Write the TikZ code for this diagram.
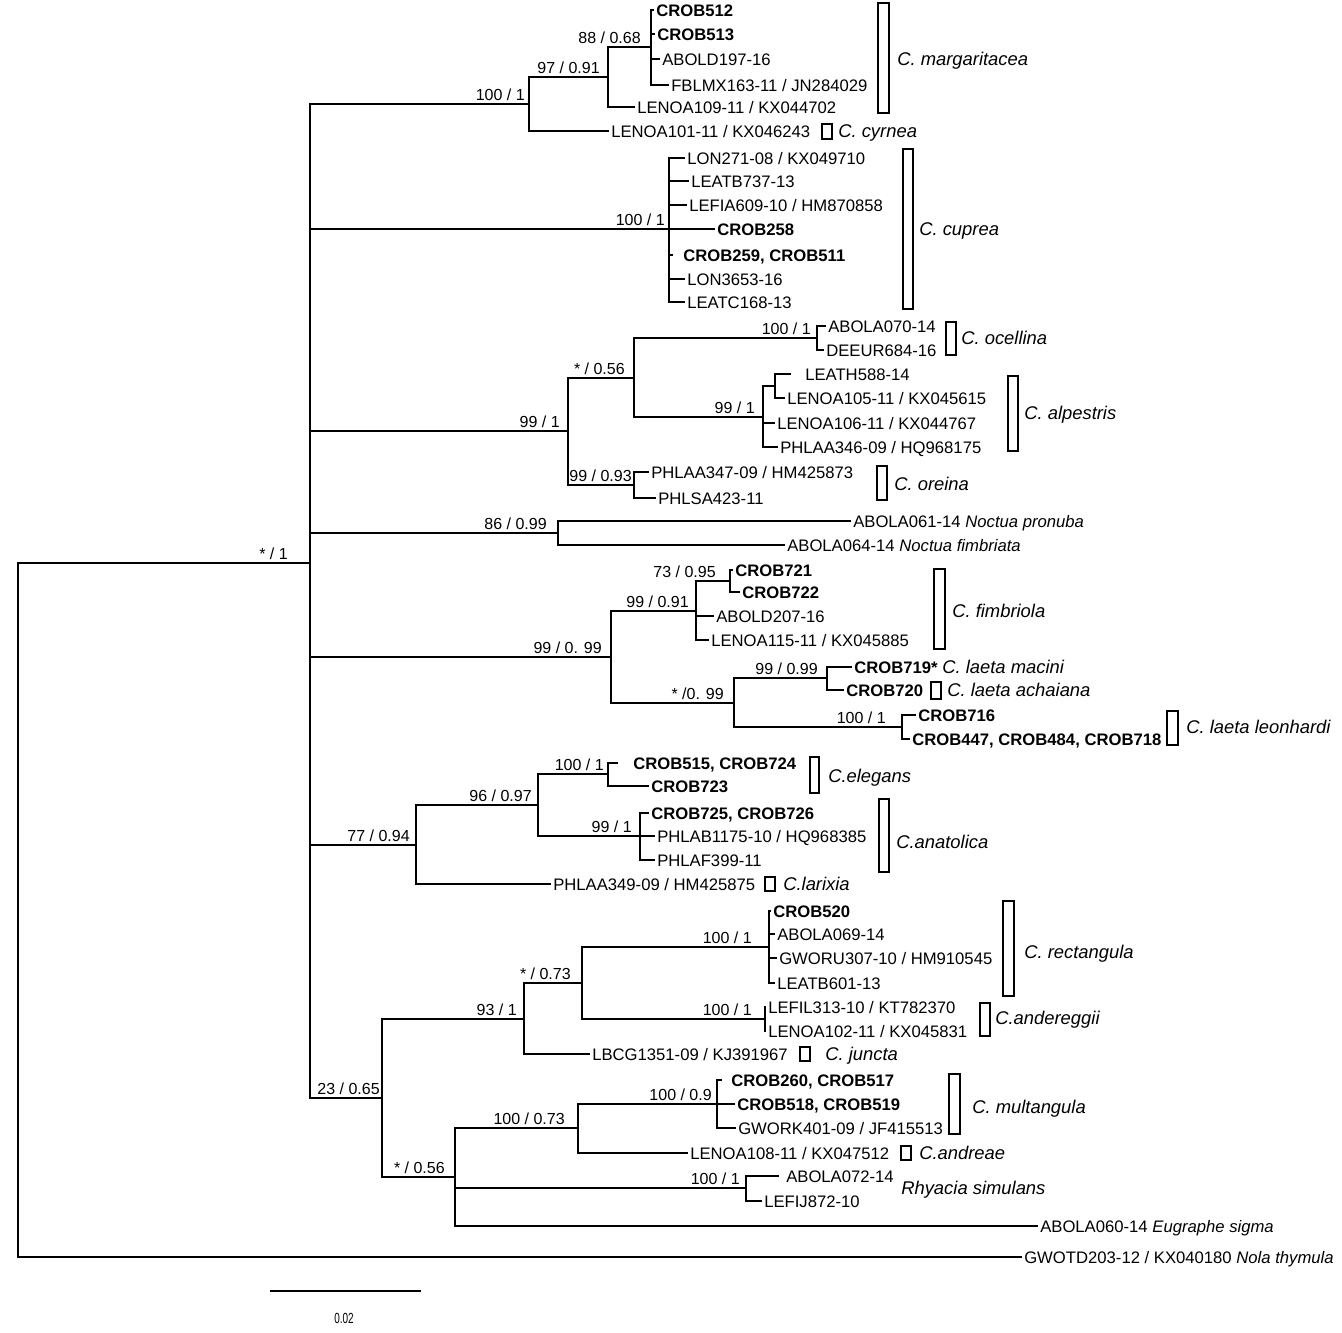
\documentclass[tikz,border=0pt]{standalone}
\usepackage{fontspec}
\setmainfont{Liberation Sans}
\usepackage{graphicx}
\newcommand\fsn{\fontsize{12.5}{14}\selectfont}
\newcommand\fsl{\fontsize{12}{14}\selectfont}
\newcommand\fss{\fontsize{13.8}{16}\selectfont}
\begin{document}
\begin{tikzpicture}[x=0.75pt,y=-0.75pt,
  br/.style={line width=1.7pt},
  boxs/.style={line width=1.5pt},
  leaf/.style={anchor=west, inner xsep=1.5pt, inner ysep=0pt, text height=9pt, text depth=0pt, font=\fsn},
  bleaf/.style={leaf, font=\fsn\bfseries},
  spn/.style={leaf, text height=10pt, font=\fss\itshape},
  sup/.style={anchor=base east, inner sep=0pt, font=\fsl}]
\fill[white] (0,0) rectangle (1342,1332);
\useasboundingbox (0,0) rectangle (1342,1332);

% internal nodes
\coordinate (root) at (18,910);
\coordinate (n310) at (310,563);
\coordinate (n529) at (529,104);
\coordinate (n608a) at (608,77);
\coordinate (n651) at (651,47);
\coordinate (n669) at (669,229);
\coordinate (n568) at (568,431);
\coordinate (n634a) at (634,378);
\coordinate (n817) at (817,338);
\coordinate (n763) at (763,417);
\coordinate (n775) at (775,386);
\coordinate (n634b) at (634,485);
\coordinate (n558) at (558,533);
\coordinate (n611) at (611,657);
\coordinate (n696) at (696,611);
\coordinate (n730) at (730,581);
\coordinate (n734) at (734,703);
\coordinate (n827) at (827,678);
\coordinate (n902) at (902,727);
\coordinate (n416) at (416,845);
\coordinate (n538) at (538,805);
\coordinate (n608b) at (608,774);
\coordinate (n640) at (640,836);
\coordinate (n382) at (382,1098);
\coordinate (n524) at (524,1019);
\coordinate (n582) at (582,983);
\coordinate (n769) at (769,947);
\coordinate (n765) at (765,1019);
\coordinate (n455) at (455,1177);
\coordinate (n578) at (578,1128);
\coordinate (n717) at (717,1104);
\coordinate (n746) at (746,1188);

% leaves
\node[bleaf] (l1) at (654,10) {CROB512};
\node[bleaf] (l2) at (655,34) {CROB513};
\node[leaf] (l3) at (660,59) {ABOLD197-16};
\node[leaf] (l4) at (669,85) {FBLMX163-11 / JN284029};
\node[leaf] (l5) at (635,107) {LENOA109-11 / KX044702};
\node[leaf] (l6) at (609,131) {LENOA101-11 / KX046243};
\node[leaf] (l7) at (685,158) {LON271-08 / KX049710};
\node[leaf] (l8) at (689,181) {LEATB737-13};
\node[leaf] (l9) at (687,205) {LEFIA609-10 / HM870858};
\node[bleaf] (l10) at (715,229) {CROB258};
\node[bleaf] (l11) at (681,255) {CROB259, CROB511};
\node[leaf] (l12) at (685,279) {LON3653-16};
\node[leaf] (l13) at (685,302) {LEATC168-13};
\node[leaf] (l14) at (826,326) {ABOLA070-14};
\node[leaf] (l15) at (824,350) {DEEUR684-16};
\node[leaf] (l16) at (803,374) {LEATH588-14};
\node[leaf] (l17) at (785,398) {LENOA105-11 / KX045615};
\node[leaf] (l18) at (775,423) {LENOA106-11 / KX044767};
\node[leaf] (l19) at (778,447) {PHLAA346-09 / HQ968175};
\node[leaf] (l20) at (649,472) {PHLAA347-09 / HM425873};
\node[leaf] (l21) at (656,498) {PHLSA423-11};
\node[leaf] (l22) at (851,521) {ABOLA061-14 \textit{Noctua pronuba}};
\node[leaf] (l23) at (785,545) {ABOLA064-14 \textit{Noctua fimbriata}};
\node[bleaf] (l24) at (733,570) {CROB721};
\node[bleaf] (l25) at (740,592) {CROB722};
\node[leaf] (l26) at (714,616) {ABOLD207-16};
\node[leaf] (l27) at (709,640) {LENOA115-11 / KX045885};
\node[leaf] (l28) at (852,667) {\textbf{CROB719*} {\fss\itshape C. laeta macini}};
\node[bleaf] (l29) at (844,690) {CROB720};
\node[bleaf] (l30) at (916,715) {CROB716};
\node[bleaf] (l31) at (910,739) {CROB447, CROB484, CROB718};
\node[bleaf] (l32) at (631,763) {CROB515, CROB724};
\node[bleaf] (l33) at (649,786) {CROB723};
\node[bleaf] (l34) at (649,813) {CROB725, CROB726};
\node[leaf] (l35) at (655,836) {PHLAB1175-10 / HQ968385};
\node[leaf] (l36) at (655,860) {PHLAF399-11};
\node[leaf] (l37) at (551,884) {PHLAA349-09 / HM425875};
\node[bleaf] (l38) at (771,911) {CROB520};
\node[leaf] (l39) at (775,934) {ABOLA069-14};
\node[leaf] (l40) at (777,958) {GWORU307-10 / HM910545};
\node[leaf] (l41) at (775,983) {LEATB601-13};
\node[leaf] (l42) at (766,1007) {LEFIL313-10 / KT782370};
\node[leaf] (l43) at (766,1031) {LENOA102-11 / KX045831};
\node[leaf] (l44) at (590,1054) {LBCG1351-09 / KJ391967};
\node[bleaf] (l45) at (729,1080) {CROB260, CROB517};
\node[bleaf] (l46) at (735,1104) {CROB518, CROB519};
\node[leaf] (l47) at (736,1128) {GWORK401-09 / JF415513};
\node[leaf] (l48) at (688,1153) {LENOA108-11 / KX047512};
\node[leaf] (l49) at (784,1176) {ABOLA072-14};
\node[leaf] (l50) at (762,1201) {LEFIJ872-10};
\node[leaf] (l51) at (1038,1226) {ABOLA060-14 \textit{Eugraphe sigma}};
\node[leaf] (l52) at (1022,1257) {GWOTD203-12 / KX040180 \textit{Nola thymula}};

% branches
\draw[br] (root) |- (n310);
\draw[br] (root) |- (l52.west);
\foreach \c in {n529,n669,n568,n558,n611,n416,n382} \draw[br] (n310) |- (\c);
\draw[br] (n529) |- (n608a);
\draw[br] (n529) |- (l6.west);
\draw[br] (n608a) |- (n651);
\draw[br] (n608a) |- (l5.west);
\foreach \c in {l1,l2,l3,l4} \draw[br] (n651) |- (\c.west);
\foreach \c in {l7,l8,l9,l10,l12,l13} \draw[br] (n669) |- (\c.west);
\draw[br,shorten >=6pt] (n669) |- (l11.west);
\draw[br] (n568) |- (n634a);
\draw[br] (n568) |- (n634b);
\draw[br] (n634a) |- (n817);
\draw[br] (n634a) |- (n763);
\draw[br] (n817) |- (l14.west);
\draw[br] (n817) |- (l15.west);
\draw[br] (n763) |- (n775);
\draw[br] (n763) |- (l18.west);
\draw[br] (n763) |- (l19.west);
\draw[br,shorten >=9pt] (n775) |- (l16.west);
\draw[br] (n775) |- (l17.west);
\draw[br] (n634b) |- (l20.west);
\draw[br] (n634b) |- (l21.west);
\draw[br] (n558) |- (l22.west);
\draw[br] (n558) |- (l23.west);
\draw[br] (n611) |- (n696);
\draw[br] (n611) |- (n734);
\draw[br] (n696) |- (n730);
\draw[br] (n696) |- (l26.west);
\draw[br] (n696) |- (l27.west);
\draw[br] (n730) |- (l24.west);
\draw[br] (n730) |- (l25.west);
\draw[br] (n734) |- (n827);
\draw[br] (n734) |- (n902);
\draw[br] (n827) |- (l28.west);
\draw[br] (n827) |- (l29.west);
\draw[br] (n902) |- (l30.west);
\draw[br] (n902) |- (l31.west);
\draw[br] (n416) |- (n538);
\draw[br] (n416) |- (l37.west);
\draw[br] (n538) |- (n608b);
\draw[br] (n538) |- (n640);
\draw[br,shorten >=10pt] (n608b) |- (l32.west);
\draw[br] (n608b) |- (l33.west);
\foreach \c in {l34,l35,l36} \draw[br] (n640) |- (\c.west);
\draw[br] (n382) |- (n524);
\draw[br] (n382) |- (n455);
\draw[br] (n524) |- (n582);
\draw[br] (n524) |- (l44.west);
\draw[br] (n582) |- (n769);
\draw[br] (n582) |- (n765);
\foreach \c in {l38,l39,l40,l41} \draw[br] (n769) |- (\c.west);
\draw[br] (n765) |- (l42.west);
\draw[br] (n765) |- (l43.west);
\draw[br] (n455) |- (n578);
\draw[br] (n455) |- (n746);
\draw[br] (n455) |- (l51.west);
\draw[br] (n578) |- (n717);
\draw[br] (n578) |- (l48.west);
\draw[br,shorten >=5pt] (n717) |- (l45.west);
\draw[br] (n717) |- (l46.west);
\draw[br] (n717) |- (l47.west);
\draw[br,shorten >=4pt] (n746) |- (l49.west);
\draw[br] (n746) |- (l50.west);

% support values
\node[sup] (s1) at (288,559) {* / 1};
\node[sup] (s2) at (525,100) {100 / 1};
\node[sup] (s3) at (600,73) {97 / 0.91};
\node[sup] (s4) at (641,43) {88 / 0.68};
\node[sup] (s5) at (665,225) {100 / 1};
\node[sup] (s6) at (560,427) {99 / 1};
\node[sup] (s7) at (625,374) {* / 0.56};
\node[sup] (s8) at (811,334) {100 / 1};
\node[sup] (s9) at (755,413) {99 / 1};
\node[sup] (s10) at (632,481) {99 / 0.93};
\node[sup] (s11) at (547,529) {86 / 0.99};
\node[sup] (s12) at (602,653) {99 / 0. 99};
\node[sup] (s13) at (689,607) {99 / 0.91};
\node[sup] (s14) at (716,577) {73 / 0.95};
\node[sup] (s15) at (724,699) {* /0. 99};
\node[sup] (s16) at (818,674) {99 / 0.99};
\node[sup] (s17) at (886,723) {100 / 1};
\node[sup] (s18) at (410,841) {77 / 0.94};
\node[sup] (s19) at (532,801) {96 / 0.97};
\node[sup] (s20) at (604,770) {100 / 1};
\node[sup] (s21) at (632,832) {99 / 1};
\node[sup] (s22) at (380,1094) {23 / 0.65};
\node[sup] (s23) at (517,1015) {93 / 1};
\node[sup] (s24) at (571,979) {* / 0.73};
\node[sup] (s25) at (752,943) {100 / 1};
\node[sup] (s26) at (752,1015) {100 / 1};
\node[sup] (s27) at (445,1173) {* / 0.56};
\node[sup] (s28) at (565,1124) {100 / 0.73};
\node[sup] (s29) at (712,1100) {100 / 0.9};
\node[sup] (s30) at (740,1184) {100 / 1};

% species bars and names
\draw[boxs] (878,3) rectangle (889,113);
\node[spn] (sp1) at (895,59) {C. margaritacea};
\draw[boxs] (822,124) rectangle (832,139);
\node[spn] (sp2) at (836,131) {C. cyrnea};
\draw[boxs] (903,149) rectangle (913,309);
\node[spn] (sp3) at (917,229) {C. cuprea};
\draw[boxs] (946,322) rectangle (956,355);
\node[spn] (sp4) at (959,338) {C. ocellina};
\draw[boxs] (1008,376) rectangle (1018,451);
\node[spn] (sp5) at (1022,413) {C. alpestris};
\draw[boxs] (877,466) rectangle (887,500);
\node[spn] (sp6) at (892,484) {C. oreina};
\draw[boxs] (934,569) rectangle (945,649);
\node[spn] (sp7) at (950,611) {C. fimbriola};
\draw[boxs] (931,682) rectangle (941,699);
\node[spn] (sp8) at (945,690) {C. laeta achaiana};
\draw[boxs] (1167,711) rectangle (1178,745);
\node[spn] (sp9) at (1184,727) {C. laeta leonhardi};
\draw[boxs] (810,757) rectangle (819,793);
\node[spn] (sp10) at (826,776) {C.elegans};
\draw[boxs] (879,799) rectangle (889,872);
\node[spn] (sp11) at (894,842) {C.anatolica};
\draw[boxs] (765,877) rectangle (775,891);
\node[spn] (sp12) at (781,884) {C.larixia};
\draw[boxs] (1003,901) rectangle (1014,996);
\node[spn] (sp13) at (1022,952) {C. rectangula};
\draw[boxs] (980,1003) rectangle (990,1036);
\node[spn] (sp14) at (993,1018) {C.andereggii};
\draw[boxs] (800,1047) rectangle (810,1061);
\node[spn] (sp15) at (823,1054) {C. juncta};
\draw[boxs] (949,1074) rectangle (960,1134);
\node[spn] (sp16) at (970,1107) {C. multangula};
\draw[boxs] (901,1146) rectangle (911,1160);
\node[spn] (sp17) at (917,1153) {C.andreae};
\node[spn] (sp18) at (899,1188) {Rhyacia simulans};

% scale bar
\coordinate (sb1) at (270,1291);
\coordinate (sb2) at (421,1291);
\draw[br] (sb1) -- (sb2);
\node[font=\fontsize{11}{12}\selectfont, inner sep=0pt] (sbl) at (344,1318) {\scalebox{0.68}[1]{0.02}};
\end{tikzpicture}
\end{document}
